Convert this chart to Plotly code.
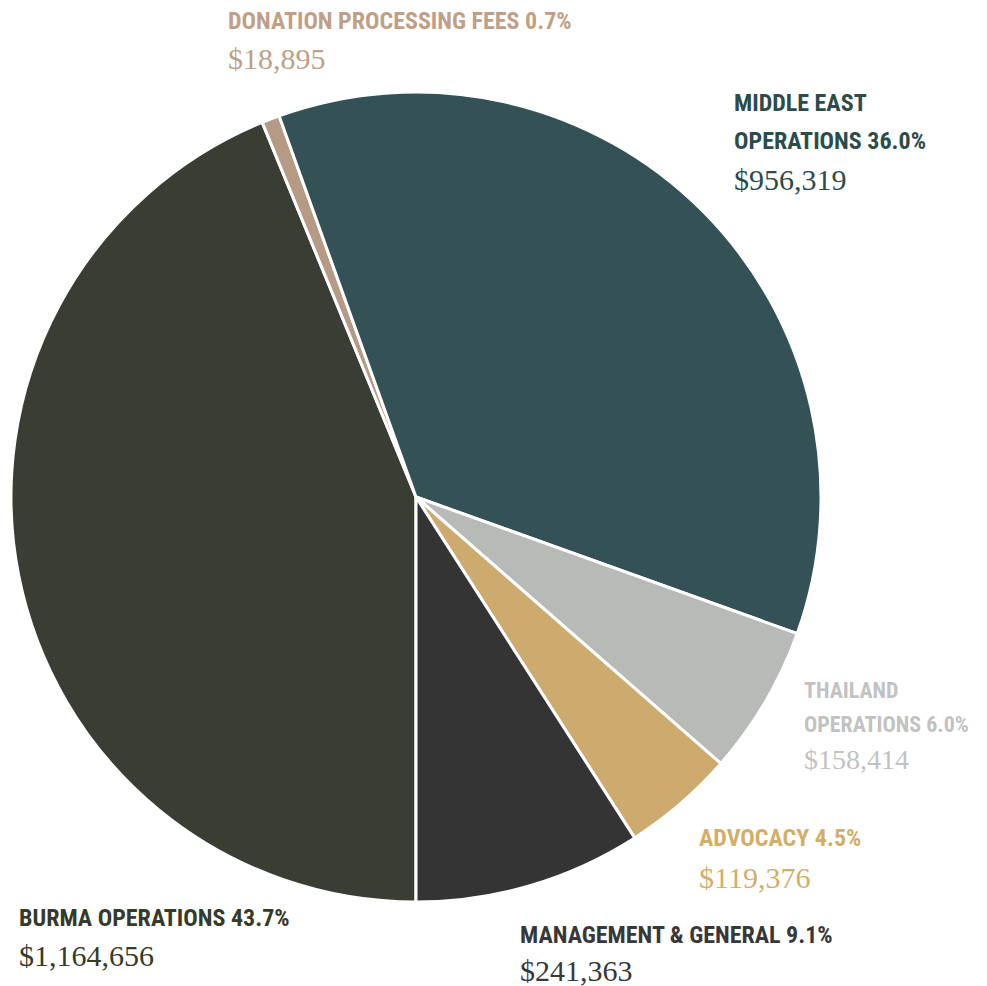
import plotly.graph_objects as go

categories = ["BURMA OPERATIONS", "DONATION PROCESSING FEES", "MIDDLE EAST OPERATIONS",
              "THAILAND OPERATIONS", "ADVOCACY", "MANAGEMENT & GENERAL"]
values = [1164656, 18895, 956319, 158414, 119376, 241363]
percent_labels = ["43.7%", "0.7%", "36.0%", "6.0%", "4.5%", "9.1%"]
slice_colors = ["#3a3d33", "#b59a85", "#345256", "#b8bab8", "#cdab6f", "#343434"]
text_colors = ["#363a2a", "#bf9f86", "#2c4c4c", "#c2c2c2", "#d2ae69", "#383838"]

W, H = 987, 986
OFF = 8  # page body margin
cx, cy, r = 416 - OFF, 497 - OFF, 405

fig = go.Figure(go.Pie(
    labels=categories, values=values, sort=False, direction="clockwise",
    rotation=180, textinfo="none", hoverinfo="label+value+percent",
    marker=dict(colors=slice_colors, line=dict(color="white", width=3)),
    domain=dict(x=[(cx - r) / W, (cx + r) / W], y=[1 - (cy + r) / H, 1 - (cy - r) / H]),
    showlegend=False,
))

label_font = "Roboto Condensed, Roboto, sans-serif"
value_font = "Liberation Serif, DejaVu Serif, serif"

# (category index, x px, label lines (y px, part), value y px, label size, value size)
placements = [
    (0, 18, [(918, None)], 955, 24, 30),
    (1, 227, [(21, None)], 59, 24, 30),
    (2, 733, [(103, 0), (141, 1)], 180, 24, 30),
    (3, 803, [(690, 0), (724, 1)], 759, 22, 28),
    (4, 698, [(838, None)], 877, 24, 30),
    (5, 519, [(935, None)], 970, 24, 30),
]
split_names = {2: ["MIDDLE EAST", "OPERATIONS"], 3: ["THAILAND", "OPERATIONS"]}

for idx, xpx, lines, vy, size, vsize in placements:
    for ypx, part in lines:
        if part is None:
            txt = f"{categories[idx]} {percent_labels[idx]}"
        elif part == 0:
            txt = split_names[idx][0]
        else:
            txt = f"{split_names[idx][1]} {percent_labels[idx]}"
        fig.add_annotation(x=(xpx - OFF - 1) / W, y=1 - (ypx - OFF) / H, xref="paper", yref="paper",
                           xanchor="left", yanchor="middle", showarrow=False,
                           text=f"<span style='font-stretch:condensed'><b>{txt}</b></span>",
                           font=dict(family=label_font, size=size, color=text_colors[idx]))
    fig.add_annotation(x=(xpx - OFF - 1) / W, y=1 - (vy - OFF) / H, xref="paper", yref="paper",
                       xanchor="left", yanchor="middle", showarrow=False,
                       text=f"${values[idx]:,}",
                       font=dict(family=value_font, size=vsize, color=text_colors[idx]))

fig.update_layout(width=W, height=H, margin=dict(l=0, r=0, t=0, b=0),
                  paper_bgcolor="white", plot_bgcolor="white")
fig.write_html("out.html")
